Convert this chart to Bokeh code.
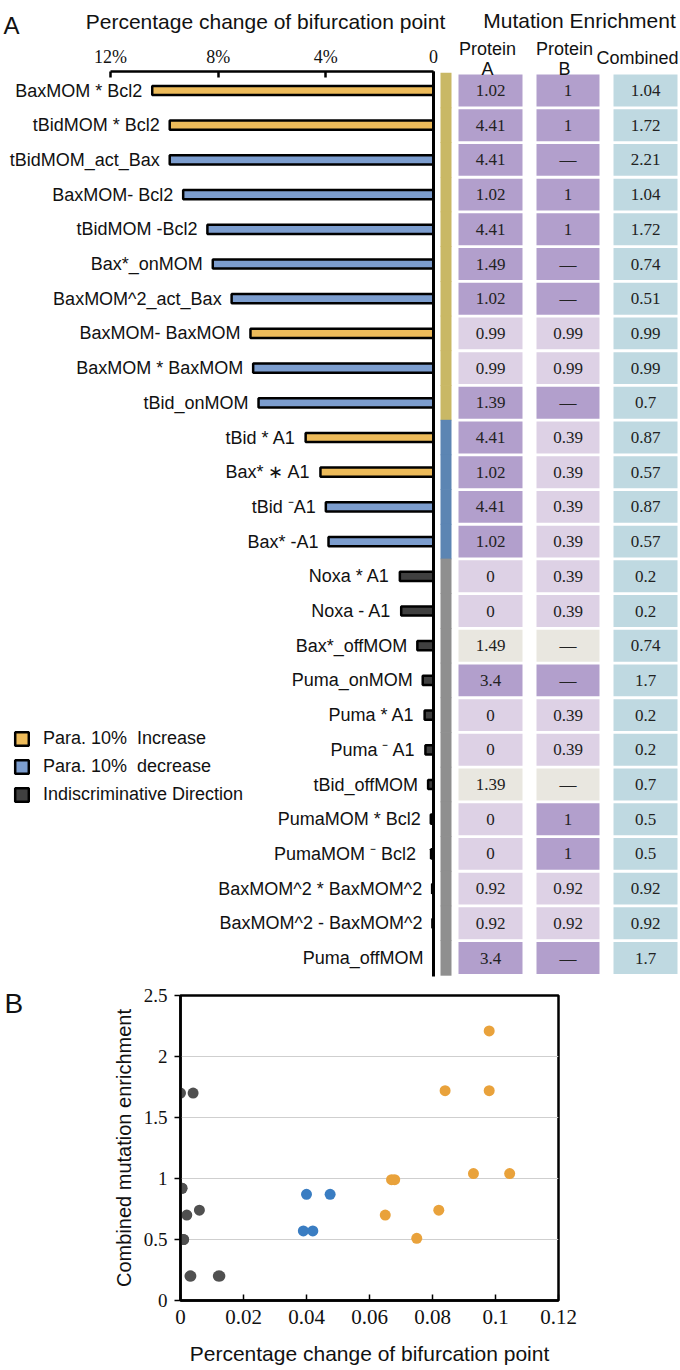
import pandas as pd
from bokeh.plotting import figure
from bokeh.models import (Range1d, LinearAxis, FixedTicker, ColumnDataSource,
                          Legend, LegendItem, Label)
from bokeh.embed import file_html
from bokeh.resources import INLINE
from bokeh.core.properties import value

# ---------------- data ----------------
params = ["BaxMOM * Bcl2", "tBidMOM * Bcl2", "tBidMOM_act_Bax", "BaxMOM- Bcl2",
          "tBidMOM -Bcl2", "Bax*_onMOM", "BaxMOM^2_act_Bax", "BaxMOM- BaxMOM",
          "BaxMOM * BaxMOM", "tBid_onMOM", "tBid * A1", "Bax* \u2217 A1",
          "tBid \u207bA1", "Bax* -A1", "Noxa * A1", "Noxa - A1", "Bax*_offMOM",
          "Puma_onMOM", "Puma * A1", "Puma \u207b A1", "tBid_offMOM",
          "PumaMOM * Bcl2", "PumaMOM  \u207b Bcl2", "BaxMOM^2 * BaxMOM^2",
          "BaxMOM^2 - BaxMOM^2", "Puma_offMOM"]
pct_change = [10.45, 9.8, 9.8, 9.3, 8.4, 8.2, 7.5, 6.8, 6.7, 6.5,
              4.75, 4.2, 4.0, 3.9, 1.25, 1.2, 0.6, 0.4, 0.33, 0.3,
              0.2, 0.1, 0.09, 0.05, 0.04, 0.0]
direction = ["inc", "inc", "dec", "dec", "dec", "dec", "dec", "inc", "dec", "dec",
             "inc", "inc", "dec", "dec"] + ["ind"] * 12
cluster = ["A"] * 10 + ["B"] * 4 + ["C"] * 12
protein_a = [1.02, 4.41, 4.41, 1.02, 4.41, 1.49, 1.02, 0.99, 0.99, 1.39,
             4.41, 1.02, 4.41, 1.02, 0, 0, 1.49, 3.4, 0, 0,
             1.39, 0, 0, 0.92, 0.92, 3.4]
protein_b = [1, 1, None, 1, 1, None, None, 0.99, 0.99, None,
             0.39, 0.39, 0.39, 0.39, 0.39, 0.39, None, None, 0.39, 0.39,
             None, 1, 1, 0.92, 0.92, None]
combined = [1.04, 1.72, 2.21, 1.04, 1.72, 0.74, 0.51, 0.99, 0.99, 0.7,
            0.87, 0.57, 0.87, 0.57, 0.2, 0.2, 0.74, 1.7, 0.2, 0.2,
            0.7, 0.5, 0.5, 0.92, 0.92, 1.7]
neutral_rows = ["Bax*_offMOM", "tBid_offMOM"]

bar_ticks = [0, 4, 8, 12]
bar_tick_labels = ["0", "4%", "8%", "12%"]
sx_ticks = [0, 0.02, 0.04, 0.06, 0.08, 0.1, 0.12]
sx_labels = ["0", "0.02", "0.04", "0.06", "0.08", "0.1", "0.12"]
sy_ticks = [0, 0.5, 1, 1.5, 2, 2.5]
sy_labels = ["0", "0.5", "1", "1.5", "2", "2.5"]
legend_labels = {"inc": "Para. 10%  Increase", "dec": "Para. 10%  decrease",
                 "ind": "Indiscriminative Direction"}

# ---------------- styles ----------------
SANS = "Liberation Sans"
SERIF = "Liberation Serif"
bar_colors = {"inc": "#EDBB5A", "dec": "#7C9DCE", "ind": "#404040"}
strip_colors = {"A": "#C9B865", "B": "#5C85B3", "C": "#8F8F8F"}
dot_colors = {"A": "#E9A23B", "B": "#3A7DC2", "C": "#505050"}
DARK, LIGHT, BEIGE, COMB = "#B29FCC", "#DDD1E5", "#E9E7E0", "#BFD9E1"

W = 680
HA = 980
HB = 388
X0 = 433.0                      # pixel of 0 %
PPP = (433 - 110) / 12.0        # pixels per percent
ROW0 = 90.0                     # pixel of first row
ROWH = 34.7                     # pixels per row


def fmt(v):
    return "\u2014" if v is None else f"{v:g}"


def shade(v, lab):
    if lab in neutral_rows:
        return BEIGE
    if v is None or v >= 1:
        return DARK
    return LIGHT


df = pd.DataFrame({"label": params, "pct": pct_change, "dir": direction,
                   "cluster": cluster})
df["row"] = range(len(df))
df["txtA"] = [fmt(v) for v in protein_a]
df["txtB"] = [fmt(v) for v in protein_b]
df["txtC"] = [fmt(v) for v in combined]
df["colA"] = [shade(v, l) for v, l in zip(protein_a, params)]
df["colB"] = [shade(v, l) for v, l in zip(protein_b, params)]
df["strip"] = [strip_colors[c] for c in cluster]
df["frac"] = [v / 100 for v in pct_change]
df["comb"] = combined
df["dot"] = [dot_colors[c] for c in cluster]
src = ColumnDataSource(df)

# ---------------- panel A ----------------
pA = figure(width=W, height=HA, title=None, toolbar_location=None, output_backend="svg",
            x_range=Range1d(X0 / PPP, -(W - X0) / PPP),
            y_range=Range1d((HA - ROW0) / ROWH, -ROW0 / ROWH),
            x_axis_location=None, y_axis_location=None,
            min_border=0, min_border_left=0, min_border_right=0,
            min_border_top=0, min_border_bottom=0, outline_line_color=None)
pA.extra_x_ranges = {"px": Range1d(0, W)}
pA.extra_y_ranges = {"py": Range1d(HA, 0)}
pA.xgrid.visible = False
pA.ygrid.visible = False

axis_row = (70.5 - ROW0) / ROWH
ax_top = LinearAxis(fixed_location=axis_row, bounds=(0, 12),
                    ticker=FixedTicker(ticks=bar_ticks),
                    major_label_overrides={t: l for t, l in zip(bar_ticks, bar_tick_labels)},
                    major_tick_in=6, major_tick_out=0, minor_tick_line_color=None,
                    axis_line_width=2.5, major_tick_line_width=2.5,
                    major_label_standoff=4,
                    major_label_text_font=SERIF, major_label_text_font_size="18px",
                    major_label_text_color="#111111")
pA.add_layout(ax_top, "above")

ax_zero = LinearAxis(fixed_location=0, bounds=(axis_row, (976 - ROW0) / ROWH),
                     ticker=FixedTicker(ticks=[]), major_tick_line_color=None,
                     minor_tick_line_color=None, major_label_text_font_size="0px",
                     axis_line_width=3)
pA.add_layout(ax_zero, "left")

renderers = {}
for d in ["inc", "dec", "ind"]:
    sub = ColumnDataSource(df[df["dir"] == d])
    renderers[d] = pA.hbar(y="row", left=0, right="pct", height=0.265, source=sub,
                           fill_color=bar_colors[d], line_color="black", line_width=2.5)

pA.text(x="pct", y="row", text="label", source=src, x_offset=-10,
        text_align="right", text_baseline="middle", text_font=value(SANS),
        text_font_size="18px", text_color="#111111")

# cluster strip
pA.rect(x=445.5, y="row", width=11, height=1.02, source=src, x_range_name="px",
        fill_color="strip", line_color=None)

# enrichment table
cols = [(490, 64, "colA", "txtA"), (567.5, 63, "colB", "txtB"), (645, 64, None, "txtC")]
for cx, cw, ccol, ctxt in cols:
    pA.rect(x=cx, y="row", width=cw, height=0.92, source=src, x_range_name="px",
            fill_color=ccol if ccol else COMB, line_color=None)
    pA.text(x=cx, y="row", text=ctxt, source=src, x_range_name="px",
            text_align="center", text_baseline="middle", text_font=value(SERIF),
            text_font_size="17px", text_color="#222222")


def head(x, y, t, size, align="center", font=SANS):
    pA.text(x=[x], y=[y], text=[t], x_range_name="px", y_range_name="py",
            text_align=align, text_baseline="alphabetic", text_font=value(font),
            text_font_size=size, text_color="#111111")


head(3, 25, "A", "24px", align="left")
head(265, 20.5, "Percentage change of bifurcation point", "21px")
head(579, 20, "Mutation Enrichment", "21px")
head(487, 48, "Protein", "18px")
head(487, 68, "A", "18px")
head(564, 48, "Protein", "18px")
head(564, 68, "B", "18px")
head(637, 57, "Combined", "18px")

legend = Legend(items=[LegendItem(label=legend_labels[d], renderers=[renderers[d]])
                       for d in ["inc", "dec", "ind"]],
                location=(13, HA - 804.5), orientation="vertical",
                glyph_width=17, glyph_height=17, label_height=17, spacing=7,
                label_standoff=13, padding=0, margin=0,
                border_line_color=None, background_fill_alpha=0,
                label_text_font=SANS, label_text_font_size="18px",
                label_text_color="#111111")
pA.add_layout(legend)

# ---------------- panel B ----------------
LB, RB, TB, FH = 180, 122, 15, 305
FW = W - LB - RB
BB = HB - TB - FH
pB = figure(width=W, height=HB, title=None, toolbar_location=None, output_backend="svg",
            x_range=Range1d(0, 0.12), y_range=Range1d(0, 2.5),
            min_border_left=LB, min_border_right=RB, min_border_top=TB,
            min_border_bottom=BB, outline_line_color="black", outline_line_width=2.5)
pB.scatter(x="frac", y="comb", source=src, size=11, fill_color="dot", line_color=None)

pB.xgrid.grid_line_color = None
pB.ygrid.grid_line_color = "#CFCFCF"
pB.ygrid.grid_line_width = 1

pB.xaxis.ticker = FixedTicker(ticks=sx_ticks)
pB.xaxis.major_label_overrides = {t: l for t, l in zip(sx_ticks, sx_labels)}
pB.yaxis.ticker = FixedTicker(ticks=sy_ticks)
pB.yaxis.major_label_overrides = {t: l for t, l in zip(sy_ticks, sy_labels)}
for ax in (pB.xaxis, pB.yaxis):
    ax.axis_line_width = 2.5
    ax.major_tick_line_width = 1.5
    ax.minor_tick_line_color = None
    ax.axis_label_text_font = SANS
    ax.axis_label_text_font_style = "normal"
    ax.axis_label_text_color = "#111111"
    ax.major_label_text_font = SERIF
    ax.major_label_text_color = "#111111"
pB.xaxis.major_tick_in = 6
pB.xaxis.major_tick_out = 0
pB.xaxis.major_label_standoff = 9
pB.xaxis.major_label_text_font_size = "21px"
pB.xaxis.axis_label = "Percentage change of bifurcation point"
pB.xaxis.axis_label_text_font_size = "21px"
pB.xaxis.axis_label_standoff = 15
pB.yaxis.major_tick_in = 0
pB.yaxis.major_tick_out = 6
pB.yaxis.major_label_standoff = 7
pB.yaxis.major_label_text_font_size = "19px"
pB.yaxis.axis_label = "Combined mutation enrichment"
pB.yaxis.axis_label_text_font_size = "20px"
pB.yaxis.axis_label_standoff = 6

# panel letter, placed in a side panel so it is not clipped to the frame
b_x = (4 - LB) / FW * 0.12
b_y = 2.5 - (1003 - (HA + TB)) / FH * 2.5
pB.add_layout(Label(x=b_x, y=b_y, text="B", text_align="left",
                    text_baseline="alphabetic", text_font=SANS,
                    text_font_size="28px", text_color="#111111"), "left")

open("out.html", "w").write(file_html([pA, pB], INLINE))
